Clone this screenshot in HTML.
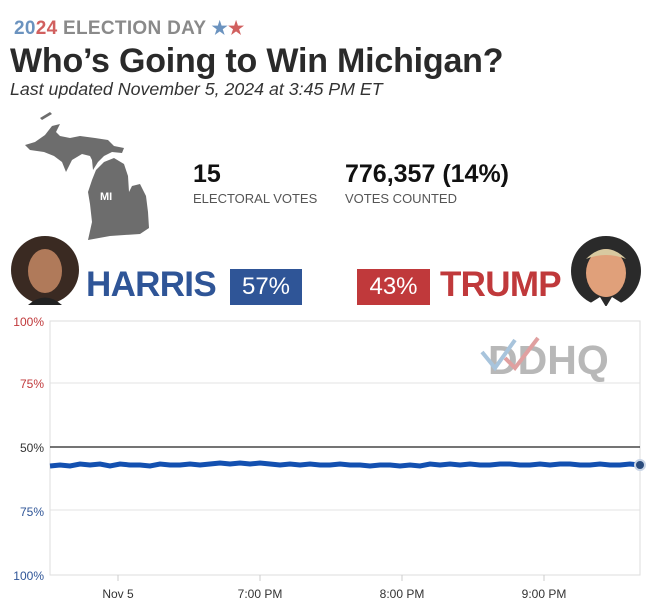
<!DOCTYPE html>
<html><head><meta charset="utf-8"><style>
body{margin:0;width:650px;height:600px;background:#fff;font-family:"Liberation Sans",sans-serif;position:relative;overflow:hidden}
.a{position:absolute;white-space:nowrap}
</style></head><body>
<div class="a" style="left:14px;top:18px;font-size:19px;font-weight:bold;color:#8a8a8a;letter-spacing:0.3px"><span style="color:#6b93bf">20</span><span style="color:#d1605f">24</span> ELECTION DAY <span style="color:#6b93bf;font-size:18px">★</span><span style="color:#d1605f;font-size:18px">★</span></div>
<div class="a" style="left:10px;top:42px;font-size:34px;color:#2a2a2a;font-weight:bold;letter-spacing:-0.2px">Who’s Going to Win Michigan?</div>
<div class="a" style="left:10px;top:79px;font-size:17.8px;font-style:italic;color:#333">Last updated November 5, 2024 at 3:45 PM ET</div>
<svg class="a" style="left:0;top:100px" width="160" height="150">
<path d="M40 18 L50 12 L52 14 L42 20Z" fill="#6d6d6d"/>
<path d="M25 45 L35 42 L45 35 L52 26 L60 24 L56 32 L60 36 L70 38 L80 36 L95 38 L108 40 L114 46 L124 48 L122 53 L112 52 L104 56 L98 62 L93 70 L92 60 L90 56 L82 54 L72 60 L66 72 L62 62 L54 56 L44 52 L30 50Z" fill="#6d6d6d"/>
<path d="M92 80 L96 70 L104 62 L114 58 L124 64 L128 76 L129 92 L132 86 L140 84 L146 96 L148 112 L149 128 L140 134 L110 136 L88 140 L92 122 L90 104 L88 92Z" fill="#6d6d6d"/>
<text x="100" y="100" font-size="11" font-weight="bold" fill="#fff" font-family="Liberation Sans">MI</text>
</svg>
<div class="a" style="left:193px;top:160px;font-size:25px;font-weight:bold;color:#111">15</div>
<div class="a" style="left:193px;top:191px;font-size:13px;color:#555">ELECTORAL VOTES</div>
<div class="a" style="left:345px;top:160px;font-size:25px;font-weight:bold;color:#111">776,357 (14%)</div>
<div class="a" style="left:345px;top:191px;font-size:13px;color:#555">VOTES COUNTED</div>
<svg class="a" style="left:10px;top:235px" width="70" height="70"><circle cx="35" cy="35" r="34" fill="#3a2a22"/><ellipse cx="35" cy="36" rx="17" ry="22" fill="#b07a5a"/><path d="M18 70 Q35 55 52 70Z" fill="#222"/></svg>
<svg class="a" style="left:570px;top:235px" width="72" height="72"><circle cx="36" cy="36" r="35" fill="#2a2a2a"/><ellipse cx="36" cy="38" rx="20" ry="24" fill="#e0a07a"/><path d="M16 24 Q36 4 56 24 Q36 16 16 24Z" fill="#d8c9a0"/><path d="M14 72 L30 62 L36 72 L42 62 L58 72Z" fill="#fff"/></svg>
<div class="a" style="left:86px;top:265px;font-size:35px;font-weight:bold;color:#2f5597;letter-spacing:-0.7px">HARRIS</div>
<div class="a" style="left:230px;top:269px;width:72px;height:36px;background:#2f5597;color:#fff;font-size:24px;line-height:36px;text-align:center">57%</div>
<div class="a" style="left:357px;top:269px;width:73px;height:36px;background:#c0393b;color:#fff;font-size:24px;line-height:36px;text-align:center">43%</div>
<div class="a" style="left:440px;top:265px;font-size:35px;font-weight:bold;color:#c0393b;letter-spacing:-0.7px">TRUMP</div>
<svg class="a" style="left:0;top:310px" width="650" height="290" font-family="Liberation Sans">
<rect x="50" y="11" width="590" height="254" fill="none" stroke="#ddd"/>
<line x1="50" y1="73" x2="640" y2="73" stroke="#e3e3e3"/>
<line x1="50" y1="200" x2="640" y2="200" stroke="#e3e3e3"/>
<line x1="50" y1="137" x2="640" y2="137" stroke="#222" stroke-width="1.2"/>
<text x="488" y="64" font-size="41" font-weight="bold" fill="#b8b8b8">DDHQ</text>
<path d="M482 42 L495 58 L515 30" stroke="#a8c4dc" stroke-width="4" fill="none"/>
<path d="M505 48 L515 58 L538 28" stroke="#e0a0a0" stroke-width="4" fill="none"/>
<g font-size="12" text-anchor="end"><text x="44" y="16" fill="#c0393b">100%</text><text x="44" y="78" fill="#c0393b">75%</text><text x="44" y="142" fill="#333">50%</text><text x="44" y="206" fill="#2f5597">75%</text><text x="44" y="270" fill="#2f5597">100%</text></g>
<polyline points="50,156 60,155 70,156 80,154 90,155 100,154 110,156 120,154 130,155 140,155 150,156 160,154 170,155 180,155 190,154 200,155 210,154 220,153 230,154 240,153 250,154 260,153 270,154 280,155 290,154 300,155 310,154 320,155 330,155 340,154 350,155 360,155 370,156 380,155 390,155 400,156 410,155 420,156 430,154 440,155 450,154 460,155 470,154 480,155 490,155 500,154 510,154 520,155 530,155 540,154 550,155 560,154 570,154 580,155 590,155 600,154 610,155 620,155 630,154 640,155" fill="none" stroke="#1350b0" stroke-width="5" stroke-linejoin="miter"/>
<circle cx="640" cy="155" r="6" fill="#c8d4e6"/><circle cx="640" cy="155" r="4" fill="#2a4b7c"/>
<g stroke="#ccc"><line x1="118" y1="265" x2="118" y2="271"/><line x1="260" y1="265" x2="260" y2="271"/><line x1="402" y1="265" x2="402" y2="271"/><line x1="544" y1="265" x2="544" y2="271"/></g>
<g font-size="12" fill="#333" text-anchor="middle"><text x="118" y="288">Nov 5</text><text x="260" y="288">7:00 PM</text><text x="402" y="288">8:00 PM</text><text x="544" y="288">9:00 PM</text></g>
</svg>
</body></html>
